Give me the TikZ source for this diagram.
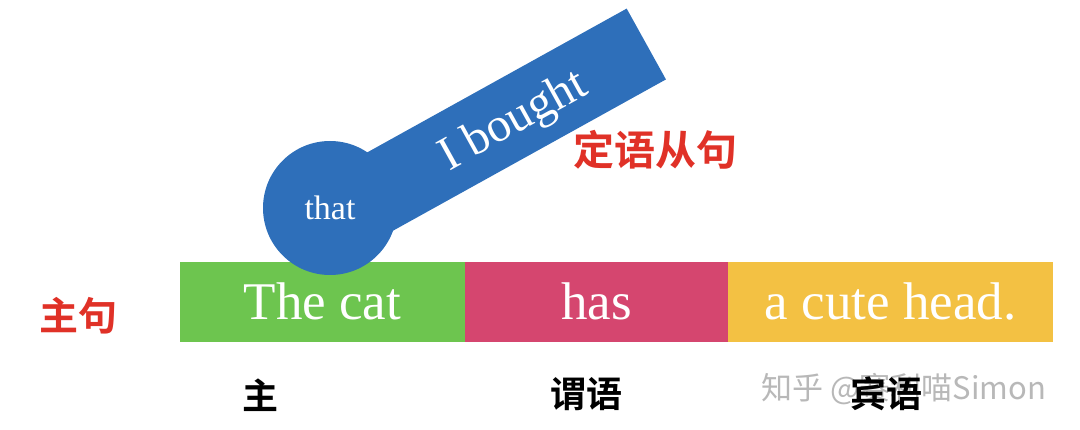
\documentclass[tikz,border=0pt]{standalone}
\usepackage{fontspec}
\setmainfont{Liberation Serif}
\newfontfamily\cjk{Noto Sans CJK SC}
\newfontfamily\cjkb{Noto Sans CJK SC Bold}
\definecolor{cgreen}{HTML}{6DC54F}
\definecolor{cpink}{HTML}{D5466F}
\definecolor{cyellow}{HTML}{F3C143}
\definecolor{cblue}{HTML}{2E6FBA}
\definecolor{cred}{HTML}{E03127}
\definecolor{cmark}{HTML}{B8B8B8}
\tikzset{
  bar/.style={inner sep=0pt, outer sep=0pt, minimum height=80pt, text=white,
    font=\fontsize{53}{55}\selectfont, text height=36pt, text depth=0pt},
  redlabel/.style={text=cred, inner sep=0pt},
  rolelabel/.style={text=black, inner sep=0pt, font=\cjkb\fontsize{36}{38}\selectfont},
}
\begin{document}
\begin{tikzpicture}[x=1pt,y=-1pt]
\useasboundingbox (0,0) rectangle (1080,430);
% main clause bars
\node[bar, fill=cgreen, minimum width=285pt] (subj) at (322.5,302) {The cat};
\node[bar, fill=cpink, minimum width=263pt] (pred) at (596.5,302) {has};
\node[bar, fill=cyellow, minimum width=325pt] (obj) at (890.5,302) {a cute head.};
% relative clause
\node[fill=cblue, inner sep=0pt, outer sep=0pt, minimum width=330pt, minimum height=81pt, rotate=29] (bar) at (502,124) {};
\node[circle, fill=cblue, inner sep=0pt, minimum size=134pt, text=white,
  font=\fontsize{34}{36}\selectfont] (that) at (330,208) {that};
\node[text=white, rotate=29, inner sep=0pt, font=\fontsize{48}{50}\selectfont] (ib) at (514,122) {I bought};
% labels
\node[redlabel, font=\cjkb\fontsize{39}{41}\selectfont] (main) at (78,316) {主句};
\node[redlabel, font=\cjkb\fontsize{41}{43}\selectfont] (rel) at (655,150) {定语从句};
\node[text=cmark, inner sep=0pt, font=\cjk\fontsize{31}{33}\selectfont] (wm) at (904,389) {知乎 @赛利喵Simon};
\node[rolelabel] (l1) at (260,395) {主};
\node[rolelabel] (l2) at (586,394) {谓语};
\node[rolelabel] (l3) at (886,394) {宾语};
\end{tikzpicture}
\end{document}
